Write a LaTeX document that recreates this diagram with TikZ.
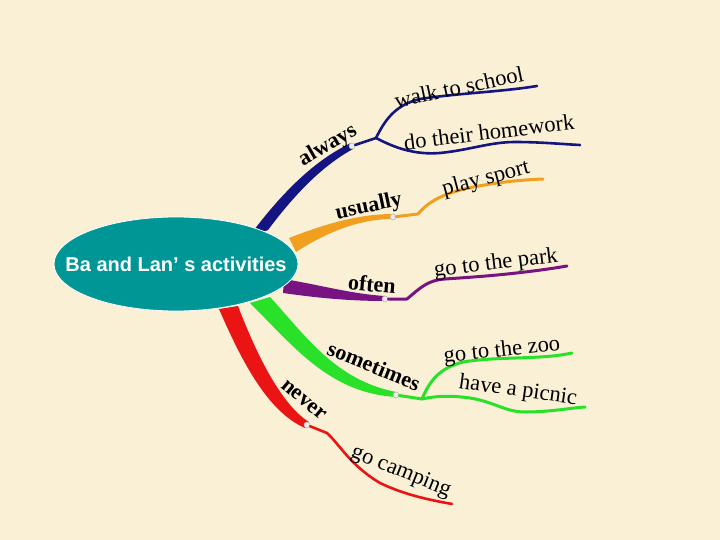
\documentclass[tikz,border=0pt]{standalone}
\usepackage{fontspec}
\setmainfont{Liberation Serif}
\newfontfamily\arialfont{Liberation Sans}
\usetikzlibrary{shapes.geometric}
\definecolor{bg}{RGB}{250,240,214}
\definecolor{navyb}{RGB}{20,20,130}
\definecolor{orangeb}{RGB}{240,160,30}
\definecolor{purpleb}{RGB}{120,20,130}
\definecolor{greenb}{RGB}{40,225,40}
\definecolor{redb}{RGB}{235,20,20}
\definecolor{tealc}{RGB}{0,150,150}
\begin{document}
\begin{tikzpicture}[x=1pt,y=-1pt,
 lab/.style={font=\fontsize{22.5}{22.5}\selectfont, inner sep=0pt},
 blab/.style={font=\fontsize{22}{22}\selectfont\bfseries, inner sep=0pt},
 knot/.style={circle, draw=gray!60, fill=gray!15, inner sep=0pt, minimum size=6pt, line width=0.5pt},
 twig/.style={line width=2.6pt, line cap=round, line join=round}]
\fill[bg] (0,0) rectangle (720,540);
\useasboundingbox (0,0) rectangle (720,540);

% tapered main branches
\fill[navyb] (248,238) .. controls (282,192) and (315,160) .. (351,143) -- (353,149) .. controls (320,167) and (292,198) .. (268,230) -- cycle;
\fill[orangeb] (289,238) .. controls (330,222) and (362,214) .. (393,214) -- (393,219) .. controls (362,219) and (330,230) .. (296,252) -- cycle;
\fill[purpleb] (284,279) .. controls (320,285) and (352,294) .. (385,296) -- (385,301) .. controls (350,301) and (318,298) .. (283,293) -- cycle;
\fill[greenb] (270,297) .. controls (305,335) and (335,380) .. (396,392) -- (396,397) .. controls (330,393) and (295,348) .. (250,303) -- cycle;
\fill[redb] (219,309) .. controls (242,362) and (268,412) .. (305,428) -- (309,422) .. controls (282,405) and (258,358) .. (238,306) -- cycle;

% central node
\node[ellipse, fill=tealc, draw=white, line width=0.8pt, minimum width=244pt, minimum height=94pt, inner sep=0pt] (hub) at (176,264) {};
\node[text=white, inner sep=0pt, font=\arialfont\bfseries\fontsize{20}{20}\selectfont] (hubtext) at (hub.center) {Ba and Lan’ s activities};

% knots
\node[knot] (k1) at (352,146) {};
\node[knot] (k2) at (393,217) {};
\node[knot] (k3) at (385,299) {};
\node[knot] (k4) at (396,395) {};
\node[knot] (k5) at (307,425) {};

% junctions and ends
\coordinate (j1) at (376,138);
\coordinate (j2) at (418,214);
\coordinate (j3) at (407,299);
\coordinate (j4) at (422,399);
\coordinate (j5) at (327,433);
\coordinate (e1) at (537,86);
\coordinate (e2) at (580,145);
\coordinate (e3) at (543,179);
\coordinate (e4) at (567,266);
\coordinate (e5) at (572,353);
\coordinate (e6) at (585,407);
\coordinate (e7) at (452,504);

% thin twigs
\draw[twig, navyb] (k1) -- (j1);
\draw[twig, navyb] (j1) .. controls (385,120) and (395,105) .. (420,99) .. controls (460,93) and (500,92) .. (e1);
\draw[twig, navyb] (j1) .. controls (395,148) and (415,155) .. (440,153) .. controls (470,150) and (490,142) .. (515,142) .. controls (540,142) and (560,144) .. (e2);
\draw[twig, orangeb, line width=3pt] (k2) -- (j2) .. controls (430,200) and (445,193) .. (473,187) .. controls (500,182) and (520,180) .. (e3);
\draw[twig, purpleb, line width=3pt] (k3) -- (j3) .. controls (420,288) and (428,280) .. (445,279) .. controls (475,277) and (520,274) .. (e4);
\draw[twig, greenb, line width=3pt] (k4) -- (j4);
\draw[twig, greenb, line width=3pt] (j4) .. controls (430,380) and (440,368) .. (463,362) .. controls (500,356) and (540,360) .. (e5);
\draw[twig, greenb, line width=3pt] (j4) .. controls (440,395) and (455,396) .. (470,398) .. controls (495,402) and (505,412) .. (525,412) .. controls (550,412) and (570,408) .. (e6);
\draw[twig, redb] (k5) -- (j5) .. controls (340,445) and (350,465) .. (380,483) .. controls (405,495) and (430,500) .. (e7);

% labels
\node[blab, rotate=30] (always) at (328,146) {always};
\node[lab, rotate=12] (walk) at (459,87) {walk to school};
\node[lab, rotate=7] (homework) at (489,132) {do their homework};
\node[blab, rotate=12] (usually) at (369,207) {usually};
\node[lab, rotate=15] (sport) at (486,179) {play sport};
\node[blab, rotate=-5] (often) at (372,284) {often};
\node[lab, rotate=7] (park) at (496,264) {go to the park};
\node[blab, rotate=-22] (sometimes) at (374,366) {sometimes};
\node[lab, rotate=6] (zoo) at (502,351) {go to the zoo};
\node[lab, rotate=-8] (picnic) at (518,391) {have a picnic};
\node[blab, rotate=-40] (never) at (304,400) {never};
\node[lab, rotate=-22] (camping) at (401,472) {go camping};
\end{tikzpicture}
\end{document}
